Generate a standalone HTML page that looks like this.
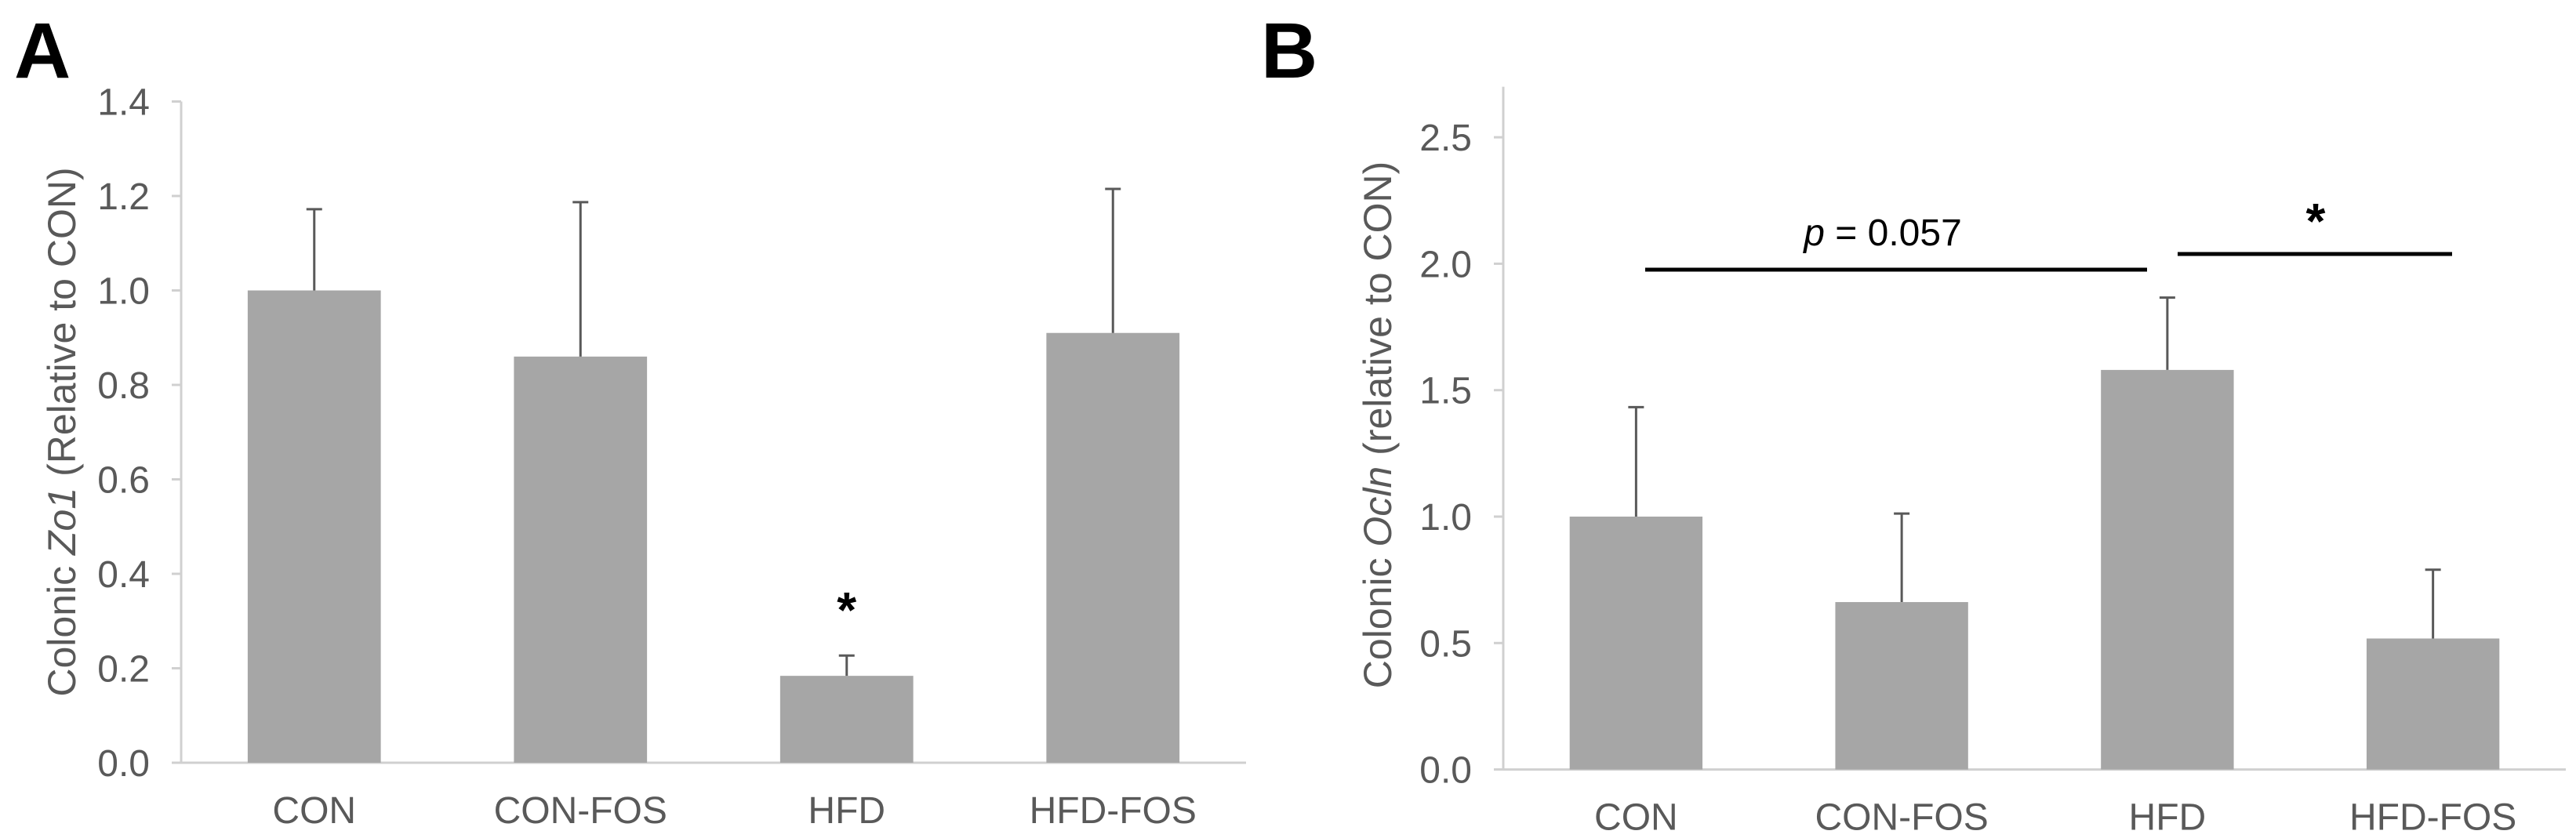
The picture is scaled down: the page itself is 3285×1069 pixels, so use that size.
<!DOCTYPE html>
<html><head><meta charset="utf-8"><style>
html,body{margin:0;padding:0;background:#fff;}
svg{display:block;}
.tick{font-family:"Liberation Sans Narrow","Liberation Sans",sans-serif;font-size:48px;fill:#595959;}
.ttl{font-family:"Liberation Sans",sans-serif;font-size:50px;fill:#595959;}
.pl{font-family:"Liberation Sans",sans-serif;font-weight:bold;font-size:100px;fill:#000;}
</style></head><body>
<svg id="fig" width="3285" height="1069" viewBox="0 0 3285 1069" xmlns="http://www.w3.org/2000/svg">
<text class="pl" x="18" y="99">A</text>
<text class="pl" x="1608" y="99">B</text>
<text class="ttl" transform="translate(96,551) rotate(-90)" text-anchor="middle">Colonic <tspan font-style="italic">Zo1</tspan> (Relative to CON)</text>
<text class="ttl" transform="translate(1774,542) rotate(-90)" text-anchor="middle">Colonic <tspan font-style="italic">Ocln</tspan> (relative to CON)</text>
<g id="ga"></g><g id="gb"></g>
</svg>
<script>
const categories = ["CON","CON-FOS","HFD","HFD-FOS"];
const zo1Values = [1.0, 0.86, 0.184, 0.91];
const zo1Err = [0.172, 0.327, 0.043, 0.305];
const zo1Ticks = ["0.0","0.2","0.4","0.6","0.8","1.0","1.2","1.4"];
const oclnValues = [1.0, 0.662, 1.58, 0.518];
const oclnErr = [0.433, 0.35, 0.286, 0.272];
const oclnTicks = ["0.0","0.5","1.0","1.5","2.0","2.5"];
const NS="http://www.w3.org/2000/svg";
function mk(g,tag,attrs){const e=document.createElementNS(NS,tag);for(const k in attrs)e.setAttribute(k,attrs[k]);g.appendChild(e);return e;}
function chart(g,o){
  const y=v=>o.base-(v/o.max)*(o.base-o.top);
  const band=(o.right-o.left)/categories.length;
  const x=i=>o.left+band*(i+0.5);
  let a=mk(g,'line',{x1:o.left,y1:o.top,x2:o.left,y2:o.base,stroke:'#d0d0d0','stroke-width':3});
  
  a=mk(g,'line',{x1:o.left,y1:o.base,x2:o.right,y2:o.base,stroke:'#d0d0d0','stroke-width':3});
  
  o.ticks.forEach(t=>{const v=parseFloat(t);
    const tk=mk(g,'line',{x1:o.left-12,y1:y(v),x2:o.left,y2:y(v),stroke:'#d0d0d0','stroke-width':3});
    
    const tl=mk(g,'text',{x:o.left-40,y:y(v)+17,'text-anchor':'end',class:'tick'});tl.textContent=t;
    });
  categories.forEach((c,i)=>{const bw=band*0.5;const v=o.vals[i],e=o.err[i];
    const b=mk(g,'rect',{x:x(i)-bw/2,y:y(v),width:bw,height:o.base-y(v),fill:'#a6a6a6'});
    
    const el=mk(g,'path',{d:`M${x(i)},${y(v)}V${y(v+e)}M${x(i)-10},${y(v+e)}H${x(i)+10}`,stroke:'#595959','stroke-width':3,fill:'none'});
    
    const xl=mk(g,'text',{x:x(i),y:o.base+77,'text-anchor':'middle',class:'tick'});xl.textContent=c;
    });
  return {x,y};
}
const A=chart(document.getElementById('ga'),{left:231,right:1589,top:129.5,base:973,max:1.4,ticks:zo1Ticks,vals:zo1Values,err:zo1Err});
let s=mk(document.getElementById('ga'),'text',{x:A.x(2),y:A.y(zo1Values[2]+zo1Err[2])-36,'text-anchor':'middle','font-family':'Liberation Sans,sans-serif','font-size':'64','font-weight':'bold'});
s.textContent='*';


const B=chart(document.getElementById('gb'),{left:1917,right:3272,top:110.6,base:981.6,max:2.7,ticks:oclnTicks,vals:oclnValues,err:oclnErr});
const gb=document.getElementById('gb');
let l1=mk(gb,'line',{x1:2098,y1:344,x2:2738,y2:344,stroke:'#000','stroke-width':5});


let l2=mk(gb,'line',{x1:2777,y1:324,x2:3127,y2:324,stroke:'#000','stroke-width':5});


let pt=mk(gb,'text',{x:2401,y:313,'text-anchor':'middle',class:'tick',style:'fill:#000'});
pt.innerHTML='<tspan font-style="italic">p</tspan> = 0.057';


let s2=mk(gb,'text',{x:2953,y:304,'text-anchor':'middle','font-family':'Liberation Sans,sans-serif','font-size':'64','font-weight':'bold'});
s2.textContent='*';


</script>
</body></html>
